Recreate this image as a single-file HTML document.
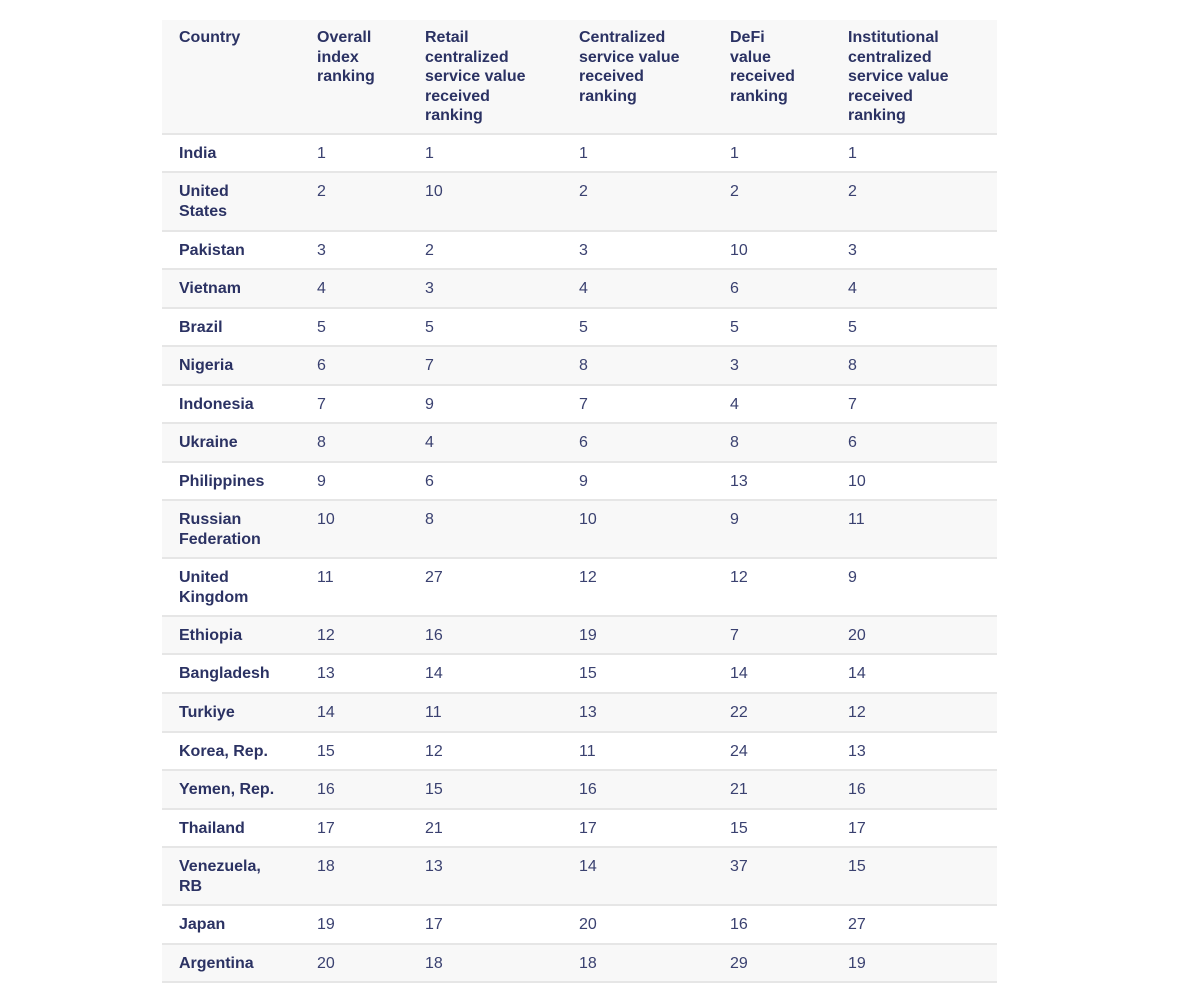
<!DOCTYPE html>
<html><head><meta charset="utf-8"><style>
body{margin:0;width:1200px;height:987px;background:#fff;position:relative;overflow:hidden;font-family:"Liberation Sans",sans-serif;}
.r{position:absolute;left:162px;width:835px;border-bottom:2px solid #e6e6e6;}
.g{background:#f8f8f8;}
.c{position:absolute;line-height:19.5px;font-size:16px;color:#3a4170;}
.b{font-weight:bold;color:#2b3263;}
</style></head><body>
<div id="t"></div>
<script>
var xs=[17,155,263,417,568,686];
var head=["Country","Overall<br>index<br>ranking","Retail<br>centralized<br>service value<br>received<br>ranking","Centralized<br>service value<br>received<br>ranking","DeFi<br>value<br>received<br>ranking","Institutional<br>centralized<br>service value<br>received<br>ranking"];
var rows=[["India",1,1,1,1,1],["United<br>States",2,10,2,2,2],["Pakistan",3,2,3,10,3],["Vietnam",4,3,4,6,4],["Brazil",5,5,5,5,5],["Nigeria",6,7,8,3,8],["Indonesia",7,9,7,4,7],["Ukraine",8,4,6,8,6],["Philippines",9,6,9,13,10],["Russian<br>Federation",10,8,10,9,11],["United<br>Kingdom",11,27,12,12,9],["Ethiopia",12,16,19,7,20],["Bangladesh",13,14,15,14,14],["Turkiye",14,11,13,22,12],["Korea, Rep.",15,12,11,24,13],["Yemen, Rep.",16,15,16,21,16],["Thailand",17,21,17,15,17],["Venezuela,<br>RB",18,13,14,37,15],["Japan",19,17,20,16,27],["Argentina",20,18,18,29,19]];
var b=[20,133,171,230,268,307,345,384,422,461,499,557,615,653,692,731,769,808,846,904,943,981];
var h='';
function row(top,bot,cells,cls,isHead){
 h+='<div class="r '+cls+'" style="top:'+top+'px;height:'+(bot-top)+'px">';
 for(var i=0;i<6;i++){h+='<div class="c'+((i==0||isHead)?' b':'')+'" style="left:'+xs[i]+'px;top:'+(isHead?8:9)+'px">'+cells[i]+'</div>';}
 h+='</div>';
}
row(b[0],b[1],head,'g',true);
for(var k=0;k<rows.length;k++){row(b[k+1]+2,b[k+2],rows[k],k%2?'g':'',false);}
document.getElementById('t').innerHTML=h;
</script>
</body></html>
